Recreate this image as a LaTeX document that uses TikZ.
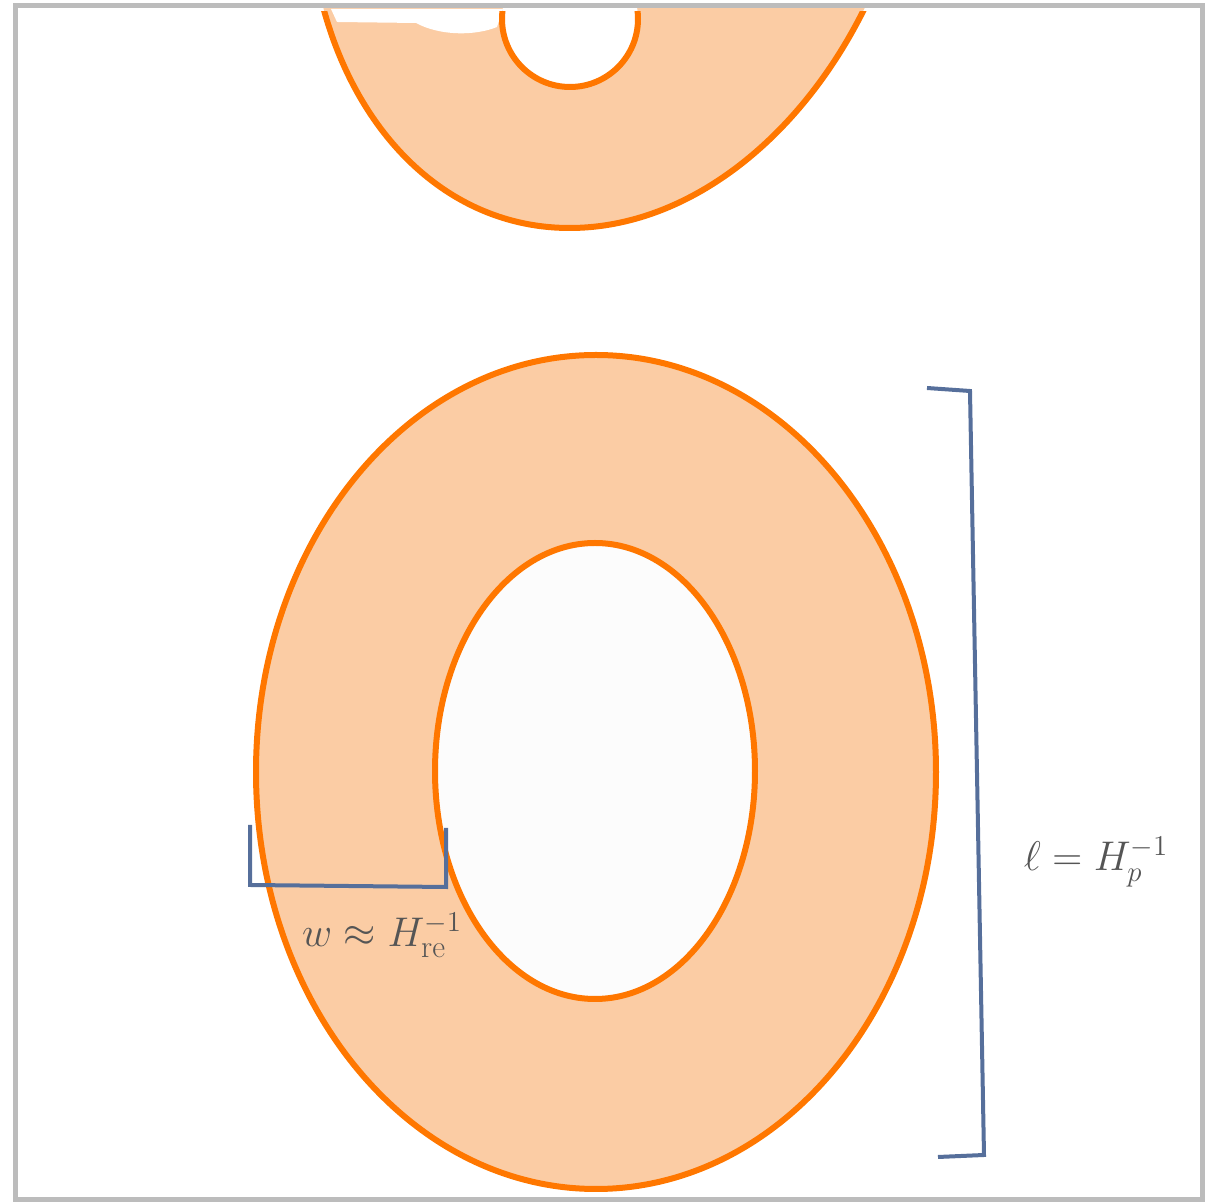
\documentclass[tikz,border=0pt]{standalone}
\usepackage{amsmath,amssymb}
\usepackage{xcolor}
\usepackage{tikz}

\definecolor{ringorange}{RGB}{255,119,0}
\definecolor{ringfill}{RGB}{251,204,164}
\definecolor{bracketblue}{RGB}{86,111,155}
\definecolor{framegray}{RGB}{188,188,188}
\definecolor{labelgray}{RGB}{85,85,85}

\begin{document}
\begin{tikzpicture}[x=0.5pt, y=-0.5pt,
      ring/.style={draw=ringorange, line width=3pt},
      bracket/.style={draw=bracketblue, line width=2pt},
      tilt/.style={shift={(614,-172)}, xslant=0.111},
      label/.style={text=labelgray, font=\fontsize{22.5}{28}\selectfont, inner sep=0pt}]
    \useasboundingbox (0,0) rectangle (1223,1202);

    % upper ring, cut by the frame
    \begin{scope}
      \clip (15,9) rectangle (1200,300);
      \fill[ringfill, tilt] (0,0) ellipse [x radius=303, y radius=400];
      \fill[white] (570,19) ellipse [x radius=68, y radius=68];
    \end{scope}
    \fill[white] (331,9) -- (337,22) -- (416,23) .. controls (440,36) and (475,36) .. (497,27) -- (503,9) -- cycle;
    \begin{scope}
      \clip (15,12) rectangle (1200,300);
      \draw[ring, tilt] (0,0) ellipse [x radius=303, y radius=400];
      \draw[ring] (570,19) ellipse [x radius=68, y radius=68];
    \end{scope}

    % lower ring
    \fill[ringfill] (596,772) ellipse [x radius=340, y radius=417];
    \fill[white!99!black] (595,771) ellipse [x radius=160, y radius=228];
    \draw[ring] (596,772) ellipse [x radius=340, y radius=417];
    \draw[ring] (595,771) ellipse [x radius=160, y radius=228];

    % length bracket
    \coordinate (lentop) at (927,388);
    \coordinate (lentopc) at (970,391);
    \coordinate (lenbotc) at (984,1155);
    \coordinate (lenbot) at (938,1157);
    \draw[bracket] (lentop) -- (lentopc) -- (lenbotc) -- (lenbot);
    \node[label, anchor=base] (lenlabel) at (1096,871) {$\ell = H_p^{-1}$};

    % width bracket
    \coordinate (wida) at (250,825);
    \coordinate (widb) at (250,885);
    \coordinate (widc) at (446,887);
    \coordinate (widd) at (446,828);
    \draw[bracket] (wida) -- (widb) -- (widc) -- (widd);
    \node[label, anchor=base] (widlabel) at (382,947) {$w \approx H_{\text{re}}^{-1}$};

    % frame
    \draw[framegray, line width=2.5pt] (15,6) rectangle (1202,1200);
  \end{tikzpicture}
\end{document}
